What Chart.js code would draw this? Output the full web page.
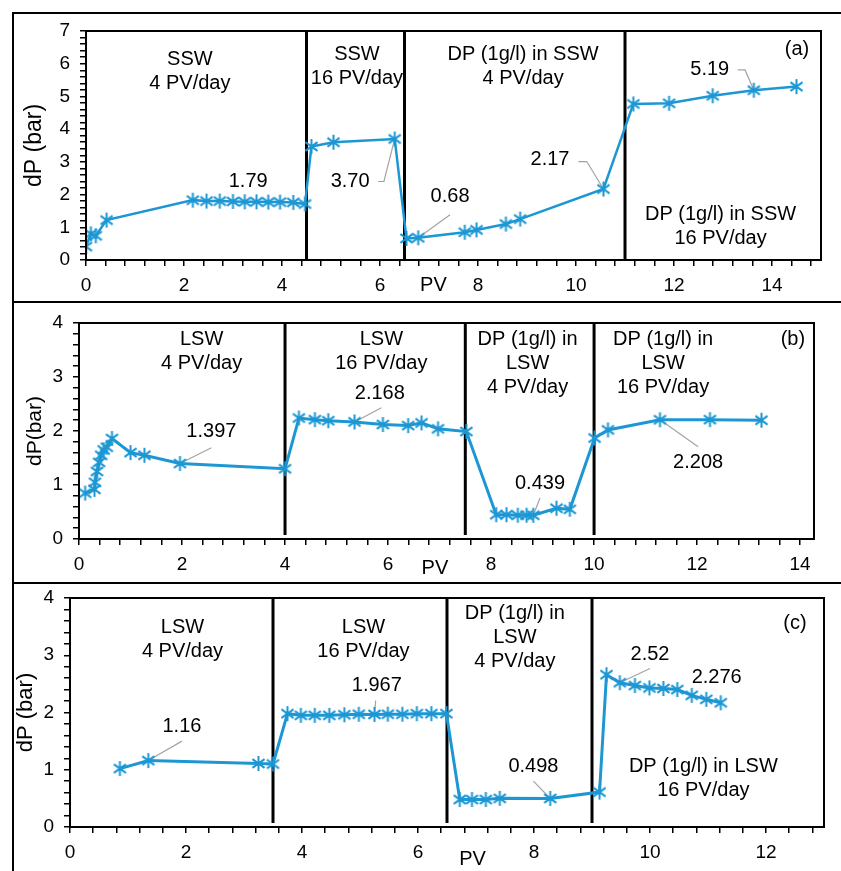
<!DOCTYPE html>
<html>
<head>
<meta charset="utf-8">
<script src="https://cdn.jsdelivr.net/npm/chart.js@4.4.0/dist/chart.umd.min.js"></script>
<style>
  html, body { margin: 0; padding: 0; background: #fff; }
  #page { position: relative; width: 841px; height: 871px; overflow: hidden; }
  .frame { position: absolute; left: 12px; width: 840px; border-top: 2px solid #000; border-left: 2px solid #000; }
  canvas { position: absolute; left: 14px; }
</style>
</head>
<body>
<div id="page">
  <div class="frame" style="top:12px;height:287px"></div>
  <div class="frame" style="top:301px;height:279px"></div>
  <div class="frame" style="top:582px;height:300px"></div>
  <canvas id="chartA" width="827" height="287" style="top:14px"></canvas>
  <canvas id="chartB" width="827" height="279" style="top:303px"></canvas>
  <canvas id="chartC" width="827" height="287" style="top:584px"></canvas>
</div>
<script>
// (a) SSW then DP in SSW
const pvA = [0, 0.1, 0.2, 0.42, 2.18, 2.46, 2.73, 3.0, 3.24, 3.48, 3.72, 3.96, 4.23, 4.47, 4.6, 5.05, 6.3, 6.54, 6.78, 7.73, 7.97, 8.57, 8.86, 10.56, 11.17, 11.9, 12.79, 13.63, 14.5]
const dpA = [0.41, 0.8, 0.74, 1.22, 1.83, 1.8, 1.8, 1.79, 1.78, 1.78, 1.77, 1.77, 1.76, 1.71, 3.47, 3.6, 3.70, 0.66, 0.68, 0.85, 0.92, 1.10, 1.25, 2.17, 4.77, 4.79, 5.02, 5.19, 5.3]
const sepA = [4.5, 6.5, 11]
const xLabelsA = [0, 2, 4, 6, 8, 10, 12, 14]
const yLabelsA = [0, 1, 2, 3, 4, 5, 6, 7]

// (b) LSW then DP in LSW
const pvB = [0.12, 0.3, 0.31, 0.35, 0.39, 0.43, 0.48, 0.54, 0.64, 1.0, 1.27, 1.96, 4.0, 4.27, 4.58, 4.84, 5.35, 5.9, 6.39, 6.65, 6.97, 7.52, 8.1, 8.3, 8.52, 8.69, 8.82, 9.27, 9.53, 10.01, 10.27, 11.28, 12.25, 13.25]
const dpB = [0.85, 0.92, 1.05, 1.25, 1.42, 1.55, 1.65, 1.7, 1.86, 1.6, 1.55, 1.397, 1.3, 2.24, 2.21, 2.19, 2.168, 2.12, 2.1, 2.15, 2.04, 1.99, 0.45, 0.45, 0.44, 0.44, 0.439, 0.57, 0.55, 1.87, 2.02, 2.208, 2.21, 2.2]
const sepB = [4, 7.5, 10]
const xLabelsB = [0, 2, 4, 6, 8, 10, 12, 14]
const yLabelsB = [0, 1, 2, 3, 4]

// (c) LSW then DP in LSW
const pvC = [0.86, 1.35, 3.25, 3.5, 3.75, 3.98, 4.22, 4.47, 4.73, 4.98, 5.25, 5.48, 5.73, 5.98, 6.23, 6.49, 6.72, 6.93, 7.17, 7.41, 8.28, 9.13, 9.25, 9.48, 9.74, 9.99, 10.23, 10.47, 10.72, 10.97, 11.22]
const dpC = [1.02, 1.16, 1.11, 1.1, 1.98, 1.95, 1.95, 1.95, 1.96, 1.97, 1.967, 1.97, 1.97, 1.98, 1.98, 1.98, 0.48, 0.48, 0.48, 0.5, 0.498, 0.61, 2.66, 2.52, 2.47, 2.43, 2.42, 2.40, 2.30, 2.23, 2.17]
const sepC = [3.5, 6.5, 9]
const xLabelsC = [0, 2, 4, 6, 8, 10, 12]
const yLabelsC = [0, 1, 2, 3, 4]

const BLUE = '#1c97d4'
const FONT = "'Liberation Sans', Arial, sans-serif"

const starMarker = (size, color) => {
  const c = document.createElement('canvas')
  c.width = size
  c.height = size
  const g = c.getContext('2d')
  g.strokeStyle = color
  g.lineWidth = 2
  const m = size / 2
  const r = size / 2 - 1
  const dx = r * Math.cos(Math.PI / 5)
  const dy = r * Math.sin(Math.PI / 5)
  g.beginPath()
  g.moveTo(m, m - r); g.lineTo(m, m + r)
  g.moveTo(m - dx, m - dy); g.lineTo(m + dx, m + dy)
  g.moveTo(m + dx, m - dy); g.lineTo(m - dx, m + dy)
  g.stroke()
  return c
}
const marker = starMarker(17, BLUE)

// texts, leader lines and the phase separators
const decor = {
  id: 'decor',
  beforeDatasetsDraw (chart, args, opts) {
    const { ctx, chartArea: a, scales: { x, y } } = chart
    ctx.save()
    ctx.strokeStyle = '#000'
    ctx.lineWidth = 3
    opts.seps.forEach(v => {
      const px = x.getPixelForValue(v)
      ctx.beginPath()
      ctx.moveTo(px, a.top)
      ctx.lineTo(px, a.bottom - opts.sepGap)
      ctx.stroke()
    })
    ctx.strokeStyle = '#a3a3a3'
    ctx.lineWidth = 1.2
    opts.leaders.forEach(l => {
      const meta = chart.getDatasetMeta(0).data[l.to]
      ctx.beginPath()
      l.pts.forEach((p, i) => {
        const px = x.getPixelForValue(p[0])
        const py = y.getPixelForValue(p[1])
        if (i === 0) ctx.moveTo(px, py)
        else ctx.lineTo(px, py)
      })
      ctx.lineTo(meta.x, meta.y)
      ctx.stroke()
    })
    ctx.restore()
  },
  afterDraw (chart, args, opts) {
    const { ctx, chartArea: a, scales: { x, y } } = chart
    ctx.save()
    ctx.strokeStyle = '#000'
    ctx.lineWidth = 2
    ctx.strokeRect(a.left, a.top, a.right - a.left, a.bottom - a.top)
    ctx.fillStyle = '#000'
    ctx.font = '20px ' + FONT
    ctx.textAlign = 'center'
    ctx.textBaseline = 'middle'
    opts.notes.forEach(n => {
      const px = x.getPixelForValue(n.x)
      const py = y.getPixelForValue(n.y)
      n.t.forEach((line, i) => ctx.fillText(line, px, py + i * 24))
    })
    ctx.restore()
  }
}

const makePanel = (id, p) => {
  const isLabel = list => v => list.some(l => Math.abs(l - v) < 1e-6) ? String(v) : ''
  const noPad = s => { s.paddingTop = 0; s.paddingBottom = 0; s.paddingLeft = 0; s.paddingRight = 0 }
  return new Chart(document.getElementById(id), {
    type: 'line',
    data: {
      datasets: [{
        data: p.pv.map((v, i) => ({ x: v, y: p.dp[i] })),
        borderColor: BLUE,
        backgroundColor: BLUE,
        borderWidth: p.lineWidth,
        pointStyle: marker,
        pointRadius: 8,
        tension: 0
      }]
    },
    plugins: [decor],
    options: {
      responsive: false,
      animation: false,
      events: [],
      layout: { padding: p.padding },
      plugins: {
        legend: { display: false },
        tooltip: { enabled: false },
        decor: { seps: p.seps, sepGap: p.sepGap, notes: p.notes, leaders: p.leaders }
      },
      scales: {
        x: {
          type: 'linear',
          min: 0,
          max: p.xMax,
          afterFit: s => { s.height = 40; noPad(s) },
          border: { color: '#000', width: 2 },
          grid: { drawOnChartArea: false, drawTicks: true, tickLength: 6, color: '#000', lineWidth: 1.5 },
          ticks: {
            stepSize: 0.4,
            autoSkip: false,
            maxRotation: 0,
            includeBounds: false,
            padding: 8,
            color: '#000',
            font: { family: FONT, size: 19 },
            callback: isLabel(p.xLabels)
          }
        },
        y: {
          type: 'linear',
          min: 0,
          max: p.yMax,
          afterFit: s => { s.width = p.yWidth; noPad(s) },
          border: { color: '#000', width: 2 },
          grid: { drawOnChartArea: false, drawTicks: true, tickLength: 6, color: '#000', lineWidth: 1.5 },
          title: { display: true, text: p.yTitle, color: '#000', padding: { top: p.titlePad, bottom: 0 }, font: { family: FONT, size: p.titleSize } },
          ticks: {
            stepSize: 0.2,
            autoSkip: false,
            includeBounds: false,
            padding: 10,
            color: '#000',
            font: { family: FONT, size: 19 },
            callback: isLabel(p.yLabels)
          }
        }
      }
    }
  })
}

makePanel('chartA', {
  pv: pvA, dp: dpA, seps: sepA, xLabels: xLabelsA, yLabels: yLabelsA,
  xMax: 15, yMax: 7, yTitle: 'dP (bar)', yWidth: 72, titleSize: 23, titlePad: 7, lineWidth: 2.5, sepGap: 0,
  padding: { top: 17, left: 0, right: 20, bottom: 1 },
  notes: [
    { t: ['SSW', '4 PV/day'], x: 2.12, y: 6.12 },
    { t: ['SSW', '16 PV/day'], x: 5.53, y: 6.27 },
    { t: ['DP (1g/l) in SSW', '4 PV/day'], x: 8.92, y: 6.27 },
    { t: ['(a)'], x: 14.51, y: 6.42 },
    { t: ['DP (1g/l) in SSW', '16 PV/day'], x: 12.95, y: 1.38 },
    { t: ['1.79'], x: 3.31, y: 2.39 },
    { t: ['3.70'], x: 5.39, y: 2.39 },
    { t: ['0.68'], x: 7.43, y: 1.93 },
    { t: ['2.17'], x: 9.47, y: 3.06 },
    { t: ['5.19'], x: 12.73, y: 5.81 },
    { t: ['PV'], x: 7.09, y: -0.78 }
  ],
  leaders: [
    { pts: [[5.96, 2.4], [6.08, 2.4]], to: 16 },
    { pts: [[7.43, 1.38]], to: 18 },
    { pts: [[10.05, 3.01], [10.22, 3.01]], to: 23 },
    { pts: [[13.3, 5.81], [13.45, 5.81]], to: 27 }
  ]
})

makePanel('chartB', {
  pv: pvB, dp: dpB, seps: sepB, xLabels: xLabelsB, yLabels: yLabelsB,
  xMax: 14.27, yMax: 4, yTitle: 'dP(bar)', yWidth: 65, titleSize: 21, titlePad: 9, lineWidth: 3, sepGap: 4,
  padding: { top: 20, left: 0, right: 27, bottom: 3 },
  notes: [
    { t: ['LSW', '4 PV/day'], x: 2.38, y: 3.69 },
    { t: ['LSW', '16 PV/day'], x: 5.87, y: 3.69 },
    { t: ['2.168'], x: 5.84, y: 2.69 },
    { t: ['1.397'], x: 2.57, y: 1.99 },
    { t: ['DP (1g/l) in', 'LSW', '4 PV/day'], x: 8.71, y: 3.69 },
    { t: ['DP (1g/l) in', 'LSW', '16 PV/day'], x: 11.34, y: 3.69 },
    { t: ['(b)'], x: 13.86, y: 3.69 },
    { t: ['0.439'], x: 8.95, y: 1.02 },
    { t: ['2.208'], x: 12.02, y: 1.41 },
    { t: ['PV'], x: 6.91, y: -0.55 }
  ],
  leaders: [
    { pts: [[5.87, 2.43]], to: 16 },
    { pts: [[2.57, 1.69]], to: 11 },
    { pts: [[8.95, 0.76]], to: 26 },
    { pts: [[12.02, 1.71]], to: 31 }
  ]
})

makePanel('chartC', {
  pv: pvC, dp: dpC, seps: sepC, xLabels: xLabelsC, yLabels: yLabelsC,
  xMax: 13, yMax: 4, yTitle: 'dP (bar)', yWidth: 56, titleSize: 22, titlePad: -1, lineWidth: 3, sepGap: 4,
  padding: { top: 14, left: 0, right: 17, bottom: 4 },
  notes: [
    { t: ['LSW', '4 PV/day'], x: 1.94, y: 3.49 },
    { t: ['LSW', '16 PV/day'], x: 5.06, y: 3.49 },
    { t: ['1.967'], x: 5.29, y: 2.48 },
    { t: ['1.16'], x: 1.93, y: 1.75 },
    { t: ['DP (1g/l) in', 'LSW', '4 PV/day'], x: 7.67, y: 3.73 },
    { t: ['(c)'], x: 12.5, y: 3.55 },
    { t: ['2.52'], x: 10.0, y: 3.02 },
    { t: ['2.276'], x: 11.15, y: 2.62 },
    { t: ['0.498'], x: 7.99, y: 1.05 },
    { t: ['DP (1g/l) in LSW', '16 PV/day'], x: 10.92, y: 1.05 },
    { t: ['PV'], x: 6.94, y: -0.56 }
  ],
  leaders: [
    { pts: [[5.27, 2.21]], to: 10 },
    { pts: [[1.93, 1.5]], to: 1 },
    { pts: [[10.0, 2.77]], to: 23 },
    { pts: [[7.99, 0.8]], to: 20 }
  ]
})
</script>
</body>
</html>
